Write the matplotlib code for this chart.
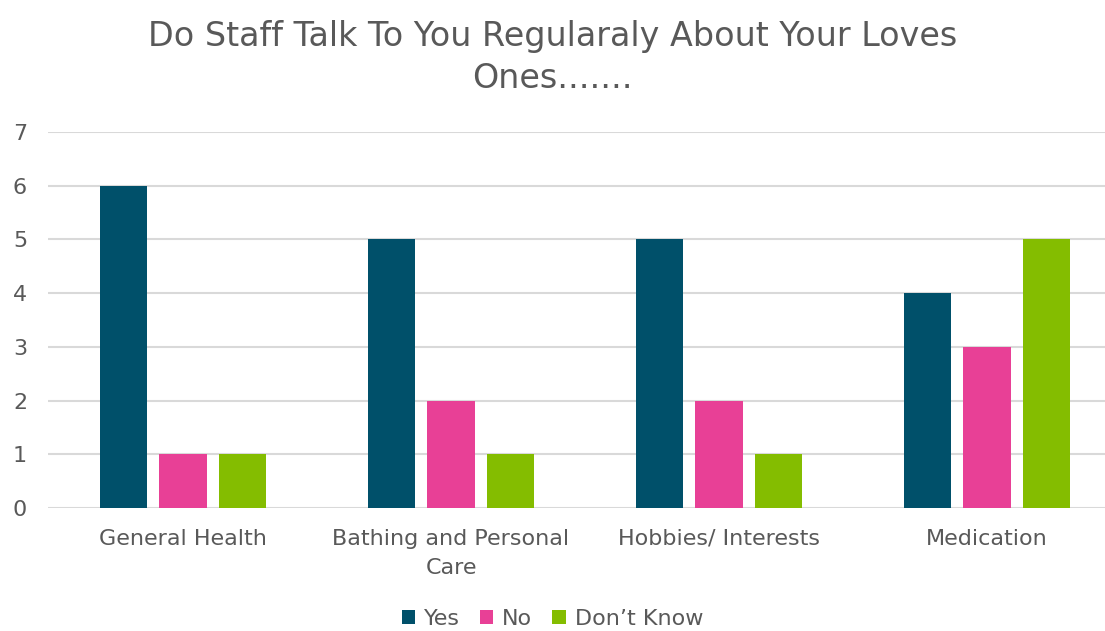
import matplotlib.pyplot as plt
import numpy as np

categories = ['General Health', 'Bathing and Personal\nCare', 'Hobbies/ Interests', 'Medication']
yes = [6, 5, 5, 4]
no = [1, 2, 2, 3]
dont_know = [1, 1, 1, 5]

series = [('Yes', yes, '#00506A'), ('No', no, '#E84096'), ("Don\u2019t Know", dont_know, '#84BD00')]

plt.rcParams['font.family'] = ['DejaVu Sans']
grey = '#595959'

fig = plt.figure(figsize=(11.05, 6.31), dpi=100)
ax = fig.add_axes([0.0434, 0.195, 0.9566, 0.596])

x = np.arange(len(categories))
width = 0.176
offsets = [-0.222, 0.0, 0.222]
for (name, vals, col), off in zip(series, offsets):
    ax.bar(x + off, vals, width, color=col, label=name, zorder=3)

ax.set_xlim(-0.504, 3.44)
ax.set_ylim(0, 7)
ax.set_yticks(range(0, 8))
ax.yaxis.grid(True, color='#D9D9D9', linewidth=1.5, zorder=0)
for s in ax.spines.values():
    s.set_visible(False)
ax.tick_params(axis='both', length=0, labelsize=16, labelcolor=grey)
ax.tick_params(axis='y', pad=15)
ax.tick_params(axis='x', pad=15)
ax.set_xticks(x)
ax.set_xticklabels(categories, linespacing=1.55)

fig.suptitle('Do Staff Talk To You Regularaly About Your Loves\nOnes.......',
             fontsize=24, color=grey, y=0.968, linespacing=1.35)

fig.legend(loc='lower center', bbox_to_anchor=(0.5, 0.0), ncol=3, frameon=False,
           fontsize=16, labelcolor=grey, handlelength=0.6, handleheight=0.6,
           handletextpad=0.4, columnspacing=0.9, borderpad=0.1, borderaxespad=0.0)

fig.savefig('out.png', dpi=100)
